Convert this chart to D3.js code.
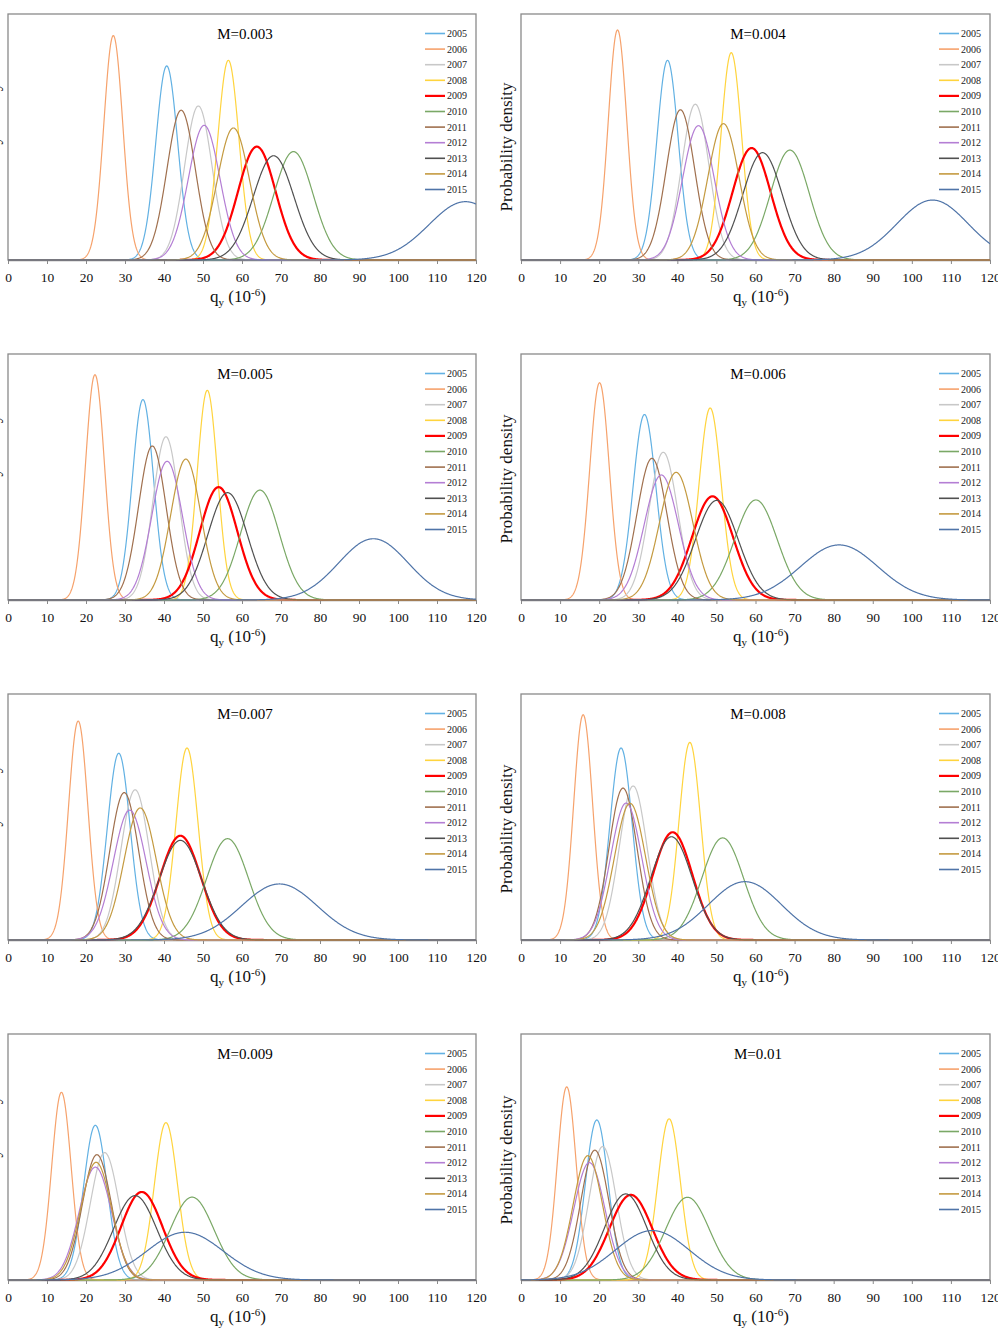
<!DOCTYPE html>
<html><head><meta charset="utf-8">
<script src="https://cdn.jsdelivr.net/npm/d3@7"></script>
<style>body{margin:0;background:#fff;} svg{display:block;}</style>
</head><body>
<svg id="c" width="998" height="1341"></svg>
<script>
// ---- data ----
const years = [2005,2006,2007,2008,2009,2010,2011,2012,2013,2014,2015];
const panelLabels = ["M=0.003","M=0.004","M=0.005","M=0.006","M=0.007","M=0.008","M=0.009","M=0.01"];
const xTicks = [0,10,20,30,40,50,60,70,80,90,100,110,120];
const yMax = [0.18,0.18,0.18,0.18,0.18,0.18,0.21,0.21];

// mean and standard deviation of each year's q_y distribution (10^-6)
const mean003 = [40.7,27.0,48.8,56.5,63.8,73.2,44.4,50.3,68.1,57.8,117.3];
const sd003   = [2.81,2.43,3.54,2.73,4.81,5.03,3.64,4.05,5.23,4.13,9.35];
const mean004 = [37.5,24.7,44.6,53.8,59.0,68.8,40.8,45.4,61.8,51.8,105.3];
const sd004   = [2.73,2.37,3.50,2.63,4.87,4.96,3.63,4.06,5.08,4.00,9.10];
const mean005 = [34.6,22.3,40.5,51.1,54.0,64.6,37.0,40.8,56.3,45.6,93.7];
const sd005   = [2.72,2.42,3.34,2.60,4.83,4.96,3.54,3.93,5.08,3.87,8.90];
const mean006 = [31.6,20.1,36.4,48.4,49.0,60.1,33.5,35.9,50.1,39.7,81.4];
const sd006   = [2.94,2.51,3.69,2.84,5.26,5.45,3.85,4.36,5.47,4.27,9.90];
const mean007 = [28.4,18.0,32.6,45.9,44.2,56.3,29.8,31.2,44.2,33.9,69.6];
const sd007   = [2.92,2.49,3.63,2.84,5.23,5.38,3.70,4.20,5.47,4.13,9.73];
const mean008 = [25.6,15.9,28.7,43.2,38.8,51.6,26.1,26.9,38.5,27.9,57.3];
const sd008   = [2.84,2.42,3.54,2.76,5.06,5.34,3.59,3.98,5.28,3.99,9.35];
const mean009 = [22.4,13.7,24.8,40.5,34.3,47.2,22.8,22.4,32.6,22.6,45.4];
const sd009   = [3.02,2.49,3.67,2.97,5.31,5.64,3.73,4.14,5.54,3.97,9.79];
const mean010 = [19.4,11.7,20.9,37.9,28.1,42.6,18.9,17.5,26.8,17.1,33.6];
const sd010   = [2.92,2.42,3.50,2.90,5.49,5.65,3.60,3.98,5.43,3.76,9.45];

const colors = ["#62b1e3","#f6a26c","#c8c8c8","#ffd43e","#ff0000","#7aa866","#a0704e","#b47ed4","#505050","#c49a40","#4f74a8"];
const widths = [1.2,1.2,1.2,1.2,2.2,1.2,1.2,1.2,1.2,1.2,1.2];

const means = [mean003,mean004,mean005,mean006,mean007,mean008,mean009,mean010];
const sds   = [sd003,sd004,sd005,sd006,sd007,sd008,sd009,sd010];

// ---- layout ----
const colX0 = [8, 521], colX1 = [476, 990];
const rowTop = [14, 354, 694, 1034], plotH = 246;
const yLabelY = [147, 479, 829, 1160];
const xTitleX = [238, 761];
const serif = "'Liberation Serif','Times New Roman',serif";

const svg = d3.select("#c");
const defs = svg.append("defs");

function pdf(x, m, s){ return Math.exp(-0.5*((x-m)/s)**2)/(s*Math.sqrt(2*Math.PI)); }
const xs = d3.range(0, 120.0001, 0.1);

panelLabels.forEach((lab, p) => {
  const col = p % 2, row = Math.floor(p/2);
  const x0 = colX0[col], x1 = colX1[col], top = rowTop[row], bot = top + plotH;
  const x = d3.scaleLinear().domain([0,120]).range([x0,x1]);
  const y = d3.scaleLinear().domain([0,yMax[p]]).range([bot, top]);
  const g = svg.append("g");

  defs.append("clipPath").attr("id","clip"+p).append("rect")
    .attr("x",x0).attr("y",top).attr("width",x1-x0).attr("height",plotH+1);

  // frame
  g.append("rect").attr("x",x0).attr("y",top).attr("width",x1-x0).attr("height",plotH)
    .attr("fill","none").attr("stroke","#8a8a8a").attr("stroke-width",1.3);

  // x axis
  const ax = g.append("g").attr("transform",`translate(0,${bot})`)
    .call(d3.axisBottom(x).tickValues(xTicks).tickSize(4).tickPadding(8).tickSizeOuter(0));
  ax.select(".domain").attr("stroke","#8a8a8a").attr("stroke-width",1.3);
  ax.selectAll(".tick line").attr("stroke","#8a8a8a");
  ax.selectAll(".tick text").attr("font-family",serif).attr("font-size",13.5).attr("fill","#111");

  // curves
  const line = d3.line().x(d=>x(d[0])).y(d=>y(d[1]));
  const cg = g.append("g").attr("clip-path",`url(#clip${p})`);
  years.forEach((yr,i) => {
    const pts = xs.map(v => [v, pdf(v, means[p][i], sds[p][i])]);
    cg.append("path").datum(pts).attr("d",line).attr("fill","none")
      .attr("stroke",colors[i]).attr("stroke-width",widths[i]);
  });

  // title
  g.append("text").attr("x", x0 + (col===0?237:237)).attr("y", top+25)
    .attr("text-anchor","middle").attr("font-family",serif).attr("font-size",15).text(lab);

  // legend
  const lx = x1 - 51;
  years.forEach((yr,i) => {
    const ly = top + 19.5 + i*15.6;
    g.append("line").attr("x1",lx).attr("x2",lx+20).attr("y1",ly).attr("y2",ly)
      .attr("stroke",colors[i]).attr("stroke-width",i===4?2.2:1.6);
    g.append("text").attr("x",lx+22).attr("y",ly+3.5).attr("font-family",serif)
      .attr("font-size",10).attr("fill","#222").text(yr);
  });

  // x title
  const xt = g.append("text").attr("x", xTitleX[col]).attr("y", bot+42)
    .attr("text-anchor","middle").attr("font-family",serif).attr("font-size",17).attr("fill","#111");
  xt.append("tspan").text("q");
  xt.append("tspan").attr("font-size",11).attr("dy",4).text("y");
  xt.append("tspan").attr("dy",-4).text(" (10");
  xt.append("tspan").attr("font-size",11).attr("dy",-6).text("-6");
  xt.append("tspan").attr("dy",6).text(")");

  // y title
  g.append("text").attr("transform",`translate(${x0-9},${yLabelY[row]}) rotate(-90)`)
    .attr("text-anchor","middle").attr("font-family",serif).attr("font-size",17).attr("fill","#111")
    .text("Probability density");
});
</script>
</body></html>
